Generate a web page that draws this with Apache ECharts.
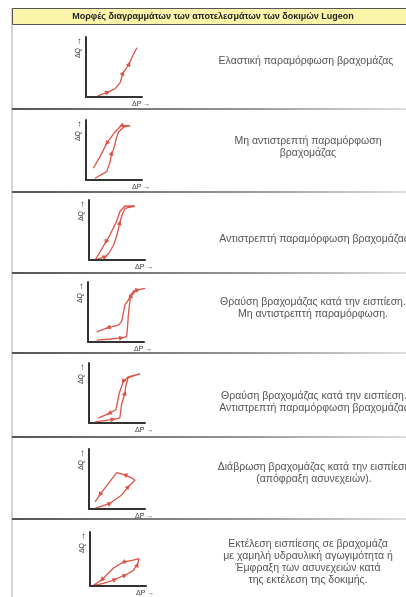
<!DOCTYPE html>
<html>
<head>
<meta charset="utf-8">
<script src="https://cdn.jsdelivr.net/npm/echarts@6/dist/echarts.min.js"></script>
<style>
  html, body { margin: 0; padding: 0; background: #fff; }
  #chart { width: 406px; height: 597px; }
</style>
</head>
<body>
<div id="chart"></div>
<script>
// ---- Text content ----
const headerTitle = 'Μορφές διαγραμμάτων των αποτελεσμάτων των δοκιμών Lugeon';
const xAxisName = 'ΔP →';
const yAxisName = '{t|ΔQ} {a|→}';
const rowLabels = [
  'Ελαστική παραμόρφωση βραχομάζας',
  'Μη αντιστρεπτή παραμόρφωση\nβραχομάζας',
  'Αντιστρεπτή παραμόρφωση βραχομάζας',
  'Θραύση βραχομάζας κατά την εισπίεση.\nΜη αντιστρεπτή παραμόρφωση.',
  'Θραύση βραχομάζας κατά την εισπίεση.\nΑντιστρεπτή παραμόρφωση βραχομάζας',
  'Διάβρωση βραχομάζας κατά την εισπίεση\n(απόφραξη ασυνεχειών).',
  'Εκτέλεση εισπίεσης σε βραχομάζα\nμε χαμηλή υδραυλική αγωγιμότητα ή\nΈμφραξη των ασυνεχειών κατά\nτης εκτέλεση της δοκιμής.'
];

// ---- Curves: [ΔP, ΔQ] in relative units (0–10), loading then unloading ----
const curveElastic = [[2.1,0.2],[3.9,0.8],[5.2,1.4],[6.1,2.4],[6.6,4.0],[7.2,4.8],[7.7,5.5],[8.4,7.0],[9.1,8.2]];
const arrowsElastic = [1, 4, 6];

const curveIrreversible = [[1.6,0.3],[3.7,1.4],[4.3,3.0],[4.6,4.5],[4.9,5.0],[5.4,6.9],[5.8,8.0],[6.7,8.8],[7.9,9.05],
  [6.3,9.05],[5.2,8.05],[3.7,6.1],[2.5,3.9],[1.3,1.95]];
const arrowsIrreversible = [3, 9, 11];

const curveReversible = [[1.1,0.0],[2.9,0.55],[3.6,1.2],[4.4,2.5],[5.0,4.2],[5.5,6.2],[5.9,7.5],[6.4,8.6],[8.2,9.0],
  [6.4,9.0],[5.5,8.05],[4.9,6.4],[3.75,4.2],[3.0,3.0],[2.0,1.4],[1.1,0.0]];
const arrowsReversible = [1, 5, 13];

const curveFractureIrrev = [[1.55,0.3],[4.0,0.5],[6.0,0.7],[6.9,0.9],[7.1,3.0],[7.2,4.5],[7.6,7.8],[8.2,8.55],[8.9,8.7],[10.2,8.95],
  [8.6,8.65],[7.5,7.4],[6.6,6.2],[6.0,3.4],[5.4,2.8],[3.6,2.4],[1.55,1.7]];
const arrowsFractureIrrev = [2, 8, 11, 15];

const curveFractureRev = [[1.1,0.2],[4.3,0.6],[5.5,0.8],[5.8,3.0],[6.4,5.0],[6.6,6.3],[7.0,7.55],[9.1,8.2],
  [7.0,7.7],[6.1,6.9],[5.4,4.95],[4.8,2.2],[3.6,1.6],[1.65,0.8]];
const arrowsFractureRev = [1, 4, 9, 12];

const curveErosion = [[1.1,0.1],[3.75,0.95],[5.8,2.3],[7.0,3.7],[8.2,4.8],
  [7.6,5.2],[6.4,5.7],[4.95,6.05],[3.75,4.6],[1.95,2.4],[1.1,1.2]];
const arrowsErosion = [1, 3, 6, 9];

const curveClogging = [[0.6,0.05],[2.4,0.5],[4.45,1.2],[6.25,2.0],[7.7,2.85],[8.45,3.95],[8.75,5.05],
  [7.7,4.8],[5.95,4.4],[4.15,3.3],[2.1,1.15],[0.6,0.15]];
const arrowsClogging = [2, 3, 5, 8, 10];

const curves = [curveElastic, curveIrreversible, curveReversible, curveFractureIrrev, curveFractureRev, curveErosion, curveClogging];
const arrowSets = [arrowsElastic, arrowsIrreversible, arrowsReversible, arrowsFractureIrrev, arrowsFractureRev, arrowsErosion, arrowsClogging];

// ---- Layout ----
const PLOT_W = 56, PLOT_H = 60, UNITS = 10;
const plotOrigins = [[86,97],[86,180],[89,260],[88,342],[89,423],[89,509],[90,592]];
const labelCenters = [[306,61],[308,147],[314,239],[313,308],[314,402],[314,473],[308,562]];
const separatorsY = [108, 191, 272, 352, 436, 518];

const RED = '#dd5446';
const AXIS = '#333';
const FONT = '"Liberation Sans", Arial, sans-serif';

// Direction of travel along the curve at point i, as a triangle rotation
function arrowAngle(pts, i) {
  const a = pts[Math.max(i - 1, 0)], b = pts[Math.min(i + 1, pts.length - 1)];
  const dx = (b[0] - a[0]) * PLOT_W / UNITS, dy = (b[1] - a[1]) * PLOT_H / UNITS;
  return Math.atan2(dy, dx) * 180 / Math.PI - 90;
}

const grid = [], xAxis = [], yAxis = [], series = [];
plotOrigins.forEach(([x0, y0], i) => {
  grid.push({ left: x0, top: y0 - PLOT_H, width: PLOT_W, height: PLOT_H });
  xAxis.push({
    gridIndex: i, type: 'value', min: 0, max: UNITS, z: 5,
    axisLine: { show: true, onZero: false, lineStyle: { color: AXIS, width: 2 } },
    axisTick: { show: false }, axisLabel: { show: false }, splitLine: { show: false },
    name: xAxisName, nameLocation: 'end', nameGap: -10,
    nameTextStyle: { color: AXIS, fontSize: 7, fontFamily: FONT, align: 'left', verticalAlign: 'top', padding: [4, 0, 0, 0] }
  });
  yAxis.push({
    gridIndex: i, type: 'value', min: 0, max: UNITS, z: 5,
    axisLine: { show: true, onZero: false, lineStyle: { color: AXIS, width: 2 } },
    axisTick: { show: false }, axisLabel: { show: false }, splitLine: { show: false },
    name: yAxisName, nameLocation: 'end', nameGap: 0, nameRotate: 90,
    nameTextStyle: {
      color: AXIS, fontSize: 7, fontFamily: FONT, align: 'right', verticalAlign: 'bottom', padding: [0, 0, 3, 0],
      rich: {
        t: { fontSize: 7, fontFamily: FONT, color: AXIS },
        a: { fontSize: 9, fontWeight: 'bold', fontFamily: FONT, color: AXIS }
      }
    }
  });
  const pts = curves[i], arrows = arrowSets[i];
  series.push({
    type: 'line', xAxisIndex: i, yAxisIndex: i, data: pts, clip: false,
    showSymbol: true, showAllSymbol: true, silent: true,
    symbol: (v, p) => arrows.includes(p.dataIndex) ? 'triangle' : 'none',
    symbolSize: 5,
    symbolRotate: (v, p) => arrowAngle(pts, p.dataIndex),
    lineStyle: { color: RED, width: 1.3 },
    itemStyle: { color: RED }
  });
});

const graphic = [
  { type: 'line', z: -10, shape: { x1: 12, y1: 8, x2: 12, y2: 597 }, style: { stroke: '#aaa', lineWidth: 1 } },
  { type: 'rect', shape: { x: 12.5, y: 8.5, width: 400, height: 16 }, style: { fill: '#fbf5aa', stroke: '#555', lineWidth: 1 } },
  { type: 'text', x: 213, y: 16.5, style: { text: headerTitle, fill: '#222', fontSize: 9, fontWeight: 'bold', fontFamily: FONT, align: 'center', verticalAlign: 'middle' } }
];
separatorsY.forEach(y => {
  graphic.push({
    type: 'rect', z: -10, shape: { x: 12, y: y, width: 394, height: 2 },
    style: { fill: new echarts.graphic.LinearGradient(0, 0, 1, 0, [
      { offset: 0, color: '#555' }, { offset: 0.6, color: '#999' }, { offset: 1, color: '#ddd' }]) }
  });
});
rowLabels.forEach((t, i) => {
  graphic.push({
    type: 'text', x: labelCenters[i][0], y: labelCenters[i][1],
    style: { text: t, fill: '#555', fontSize: 10.5, fontFamily: FONT, lineHeight: 12, align: 'center', verticalAlign: 'middle' }
  });
});

const chart = echarts.init(document.getElementById('chart'), null, { renderer: 'canvas' });
chart.setOption({ animation: false, backgroundColor: '#fff', grid, xAxis, yAxis, series, graphic });
</script>
</body>
</html>
